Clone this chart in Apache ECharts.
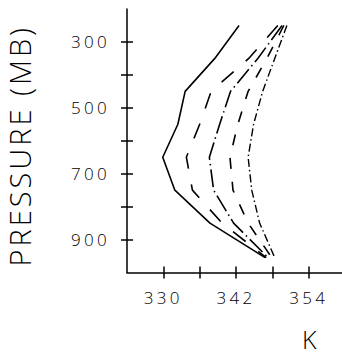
<!DOCTYPE html>
<html>
<head>
<meta charset="utf-8">
<script src="https://cdn.jsdelivr.net/npm/echarts@6/dist/echarts.min.js"></script>
<style>
  html, body { margin: 0; padding: 0; background: #fff; }
  #chart { width: 342px; height: 355px; }
  #chart text { letter-spacing: 3.3px; }
  #chart text[style*="29px"] { letter-spacing: 3px; }
</style>
</head>
<body>
<div id="chart"></div>
<script>
// Pressure levels (mb) and equivalent potential temperature (K) profiles
const pressureLevels = [250, 350, 450, 550, 650, 750, 850, 955];
const solidK    = [342.5, 338.5, 333.6, 332.4, 329.9, 331.9, 337.7, 346.8];
const longDashK = [348.9, 344.1, 337.9, 336.0, 333.8, 334.8, 339.7, 347.0];
const dashDotK  = [349.6, 345.6, 341.1, 339.3, 337.6, 338.3, 341.6, 347.3];
const dashK     = [349.9, 347.1, 344.0, 342.3, 341.0, 341.5, 344.0, 347.9];
const fineDashDotK = [350.4, 348.4, 346.4, 344.9, 344.0, 344.6, 345.9, 348.4];

const xTicks = [330, 336, 342, 348, 354];
const xLabels = [330, 342, 354];
const yTicks = [300, 400, 500, 600, 700, 800, 900];
const yLabels = [300, 500, 700, 900];

const pairs = arr => arr.map((k, i) => [k, pressureLevels[i]]);

const FONT = 'Open Sans';
const WEIGHT = 300;
const xMin = 324, xMax = 359.5, yMin = 200, yMax = 1000;

const chart = echarts.init(document.getElementById('chart'), null, { renderer: 'svg' });

function lineSeries(data, type, width) {
  return {
    type: 'line',
    data: pairs(data),
    xAxisIndex: 0,
    yAxisIndex: 0,
    symbol: 'none',
    smooth: false,
    animation: false,
    lineStyle: { color: '#000', width: width || 1.6, type: type }
  };
}

chart.setOption({
  animation: false,
  backgroundColor: '#fff',
  grid: { left: 127, right: 0, top: 9, bottom: 82.5, containLabel: false, outerBoundsMode: 'none' },
  xAxis: [
    {
      type: 'value', min: xMin, max: xMax, position: 'bottom',
      axisLine: { show: true, onZero: false, lineStyle: { color: '#000', width: 1.5 } },
      axisTick: { show: true, inside: false, length: 6, customValues: xTicks, lineStyle: { color: '#000', width: 1.5 } },
      axisLabel: { show: true, customValues: xLabels, margin: 16, fontSize: 17, fontFamily: FONT, fontWeight: WEIGHT, color: '#000' },
      splitLine: { show: false }
    },
    {
      type: 'value', min: xMin, max: xMax, position: 'bottom',
      axisLine: { show: false },
      axisTick: { show: true, inside: true, length: 6, customValues: xTicks, lineStyle: { color: '#000', width: 1.5 } },
      axisLabel: { show: false },
      splitLine: { show: false }
    }
  ],
  yAxis: [
    {
      type: 'value', min: yMin, max: yMax, inverse: true, position: 'left',
      name: 'PRESSURE (MB)', nameLocation: 'middle', nameRotate: 90, nameGap: 93,
      nameTextStyle: { fontSize: 29, fontFamily: FONT, fontWeight: WEIGHT, color: '#000', padding: [0, 10, 0, 0] },
      axisLine: { show: true, onZero: false, lineStyle: { color: '#000', width: 1.5 } },
      axisTick: { show: true, inside: false, length: 6, customValues: yTicks, lineStyle: { color: '#000', width: 1.5 } },
      axisLabel: { show: true, customValues: yLabels, margin: 17, fontSize: 17, fontFamily: FONT, fontWeight: WEIGHT, color: '#000' },
      splitLine: { show: false }
    },
    {
      type: 'value', min: yMin, max: yMax, inverse: true, position: 'left',
      axisLine: { show: false },
      axisTick: { show: true, inside: true, length: 6, customValues: yTicks, lineStyle: { color: '#000', width: 1.5 } },
      axisLabel: { show: false },
      splitLine: { show: false }
    }
  ],
  graphic: [
    {
      type: 'text', left: 302, top: 326,
      style: { text: 'K', fontSize: 25, fontFamily: FONT, fontWeight: WEIGHT, fill: '#000' }
    }
  ],
  series: [
    lineSeries(solidK, 'solid', 1.6),
    lineSeries(longDashK, [16, 16], 1.6),
    lineSeries(dashDotK, [18, 4, 1.5, 4], 1.6),
    lineSeries(dashK, [11, 13], 1.6),
    lineSeries(fineDashDotK, [8, 3, 1.5, 3], 1.4)
  ]
});
</script>
</body>
</html>
